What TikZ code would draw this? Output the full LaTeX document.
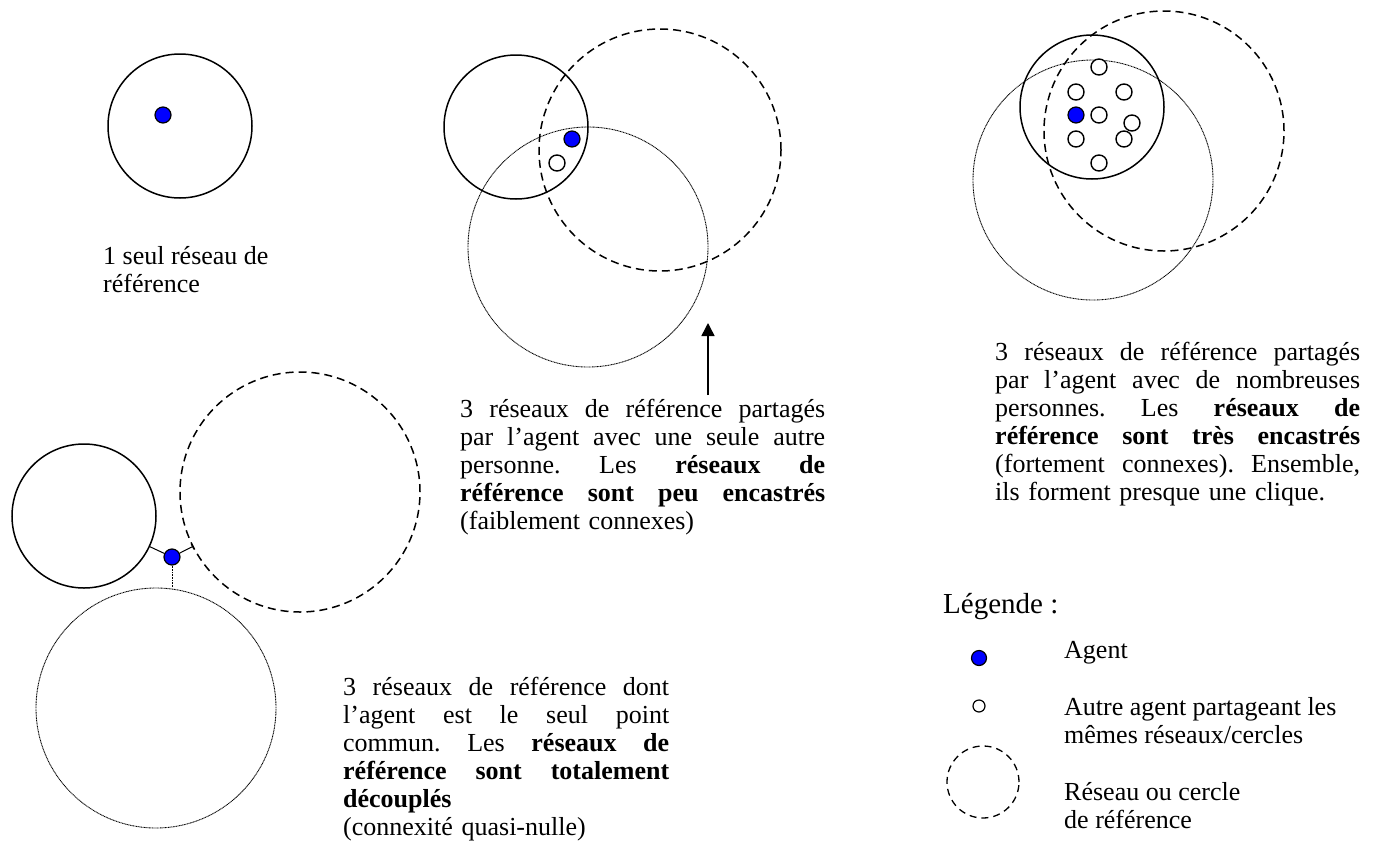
\documentclass[tikz,border=0pt]{standalone}
\usepackage{fontspec}
\setmainfont{Liberation Serif}
\usetikzlibrary{arrows.meta}
\newlength{\jw}
\newcommand{\jl}[1]{\leavevmode\hbox to\jw{\spaceskip=0.25em plus 1fil\xspaceskip=0.25em plus 1fil\relax #1}\\}

\begin{document}
\begin{tikzpicture}[x=1pt,y=-1pt,
  net/.style={circle,draw,line width=1.5pt,inner sep=0pt,outer sep=0pt},
  netdash/.style={net,dash pattern=on 8pt off 5pt},
  netdot/.style={net,line width=0.9pt,dash pattern=on 1pt off 0.6pt},
  agent/.style={circle,draw,fill=blue,line width=1.2pt,minimum size=16pt,inner sep=0pt},
  other/.style={circle,draw,fill=white,line width=1.4pt,minimum size=16pt,inner sep=0pt},
  txt/.style={anchor=base west,inner sep=0pt,font=\fontsize{26}{28}\selectfont,align=left},
  box/.style={txt,text width=#1,execute at begin node={\setlength{\jw}{#1}}}]
  \useasboundingbox (0,0) rectangle (1377,852);

  \node[net,minimum size=144pt] (n1) at (180,126) {};
  \node[agent] (ag1) at (163,115) {};
  \node[txt] (t1) at (103,292) {1 seul réseau de\\référence};

  \node[netdot,minimum size=240pt] (n2c) at (588,247) {};
  \node[netdash,minimum size=242pt] (n2b) at (660,150) {};
  \node[net,minimum size=144pt] (n2a) at (516,127) {};
  \node[agent] (ag2) at (572,139) {};
  \node[other] (o2) at (557,163) {};
  \coordinate (arr0) at (708,395);
  \coordinate (arr1) at (708,323);
  \draw[line width=1.5pt,-{Triangle[width=13pt,length=13pt]}] (arr0) -- (arr1);
  \node[box=365pt] (t2) at (460,417) {\jl{3 réseaux de référence partagés}\jl{par l’agent avec une seule autre}\jl{personne. Les \textbf{réseaux de}}\jl{\textbf{référence sont peu encastrés}}(faiblement connexes)};

  \node[netdot,minimum size=240pt] (n3c) at (1093,180) {};
  \node[netdash,minimum size=240pt] (n3b) at (1164,131) {};
  \node[net,minimum size=144pt] (n3a) at (1092,107) {};
  \node[agent] (ag3) at (1076,115) {};
  \foreach \p in {(1099,67),(1076,92),(1124,92),(1099,115),(1132,123),(1076,139),(1124,139),(1099,163)}
    \node[other] at \p {};
  \node[box=365pt] (t3) at (995,360) {\jl{3 réseaux de référence partagés}\jl{par l’agent avec de nombreuses}\jl{personnes. Les \textbf{réseaux de}}\jl{\textbf{référence sont très encastrés}}\jl{(fortement connexes). Ensemble,}ils forment presque une clique.};

  \node[net,minimum size=144pt] (n4a) at (84,516) {};
  \node[netdash,minimum size=240pt] (n4b) at (300,492) {};
  \node[netdot,minimum size=240pt] (n4c) at (156,708) {};
  \node[agent] (ag4) at (172,557) {};
  \draw[line width=1pt] (ag4) -- (n4a);
  \draw[line width=1pt,-{Bar[width=6pt,line width=1pt]}] (ag4) -- (n4b);
  \draw[line width=1pt,dash pattern=on 1pt off 0.6pt] (ag4) -- (ag4 |- n4c.north);
  \node[box=326pt] (t4) at (343,695) {\jl{3 réseaux de référence dont}\jl{l’agent est le seul point}\jl{commun. Les \textbf{réseaux de}}\jl{\textbf{référence sont totalement}}\textbf{découplés}\\(connexité quasi-nulle)};

  \node[txt,font=\fontsize{29}{32}\selectfont] (leg) at (943,613) {Légende :};
  \node[agent,minimum size=15pt] (lag) at (979,658) {};
  \node[txt] (lt1) at (1064,658) {Agent};
  \node[other,minimum size=12pt,line width=1.2pt] (lot) at (979,706) {};
  \node[txt] (lt2) at (1064,743) {Autre agent partageant les\\mêmes réseaux/cercles};
  \node[netdash,minimum size=72pt,line width=1.3pt,dash pattern=on 7pt off 5pt] (lnet) at (983,782) {};
  \node[txt] (lt3) at (1064,828) {Réseau ou cercle\\de référence};
\end{tikzpicture}
\end{document}
